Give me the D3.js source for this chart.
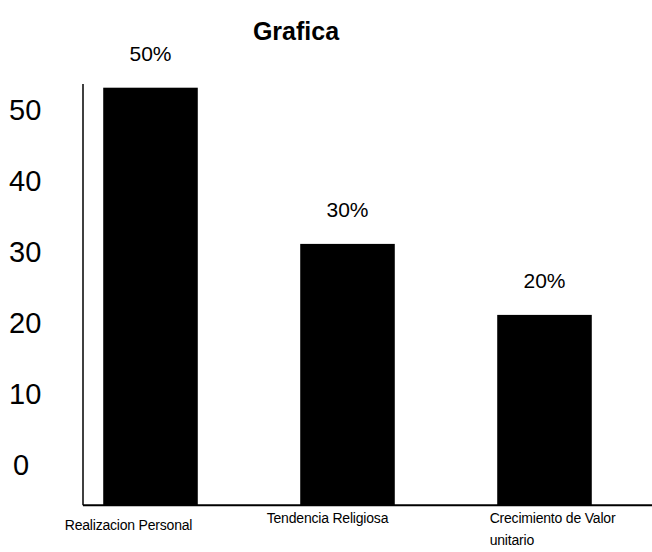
<!DOCTYPE html>
<html>
<head>
<meta charset="utf-8">
<script src="https://cdn.jsdelivr.net/npm/d3@7"></script>
<style>
  html, body { margin: 0; padding: 0; background: #fff; }
  svg { display: block; font-family: "Liberation Sans", Arial, sans-serif; }
</style>
</head>
<body>
<svg id="chart" width="652" height="552"></svg>
<script>
// ---- data ----
const title = "Grafica";
const categories = ["Realizacion Personal", "Tendencia Religiosa", "Crecimiento de Valor unitario"];
const values = [53, 31, 21];            // bar heights (axis units)
const valueLabels = ["50%", "30%", "20%"];
const yTicks = [0, 10, 20, 30, 40, 50];
const axisFloor = -5.8;                 // value where the drawn baseline sits

// ---- layout ----
const W = 652, H = 552;
const svg = d3.select("#chart");
svg.append("rect").attr("width", W).attr("height", H).attr("fill", "#fff");

const x = d3.scaleBand()
  .domain(categories)
  .range([52, 643])
  .paddingInner(0.52)
  .paddingOuter(0.26);

const y = d3.scaleLinear().domain([0, 50]).range([464, 109]);

// title
svg.append("text")
  .attr("x", 296).attr("y", 40)
  .attr("text-anchor", "middle")
  .attr("font-size", 25).attr("font-weight", "bold")
  .text(title);

// bars
svg.append("g").selectAll("rect")
  .data(categories)
  .join("rect")
  .attr("x", d => x(d))
  .attr("width", x.bandwidth())
  .attr("y", (d, i) => y(values[i]))
  .attr("height", (d, i) => y(axisFloor) - y(values[i]))
  .attr("fill", "#000");

// value labels
svg.append("g").selectAll("text")
  .data(categories)
  .join("text")
  .attr("x", d => x(d) + x.bandwidth() / 2)
  .attr("y", (d, i) => y(values[i]) - 27)
  .attr("text-anchor", "middle")
  .attr("font-size", 21)
  .text((d, i) => valueLabels[i]);

// y axis (labels only, no ticks)
const yAxis = d3.axisLeft(y).tickValues(yTicks).tickSize(0).tickPadding(0);
const gy = svg.append("g").attr("transform", "translate(9,0)").call(yAxis);
gy.select(".domain").remove();
gy.selectAll("text")
  .attr("text-anchor", "start")
  .attr("x", d => d === 0 ? 4 : 0)
  .attr("dy", "0.36em")
  .attr("font-size", 29)
  .attr("font-family", "Liberation Sans, Arial, sans-serif")
  .attr("fill", "#000");

// axis lines
const baseY = y(axisFloor);
svg.append("line")
  .attr("x1", 83).attr("x2", 83)
  .attr("y1", 84).attr("y2", baseY)
  .attr("stroke", "#000").attr("stroke-width", 1.5);
svg.append("line")
  .attr("x1", 83).attr("x2", W)
  .attr("y1", baseY).attr("y2", baseY)
  .attr("stroke", "#000").attr("stroke-width", 2);

// x category labels
const labelDx = [-22, -20, 8];
const labelY = [530, 523, 523];
const xl = svg.append("g");
categories.forEach((c, i) => {
  const cx = x(c) + x.bandwidth() / 2 + labelDx[i];
  const lines = c === "Crecimiento de Valor unitario" ? ["Crecimiento de Valor", "unitario"] : [c];
  const t = xl.append("text")
    .attr("y", labelY[i])
    .attr("font-size", 14)
    .attr("letter-spacing", "-0.2");
  const first = t.append("tspan").attr("x", cx).attr("text-anchor", "middle").text(lines[0]);
  if (lines.length > 1) {
    const w = first.node().getComputedTextLength();
    const left = cx - w / 2;
    first.attr("x", left).attr("text-anchor", "start");
    t.append("tspan").attr("x", left).attr("dy", 22).attr("text-anchor", "start").text(lines[1]);
  }
});
</script>
</body>
</html>
